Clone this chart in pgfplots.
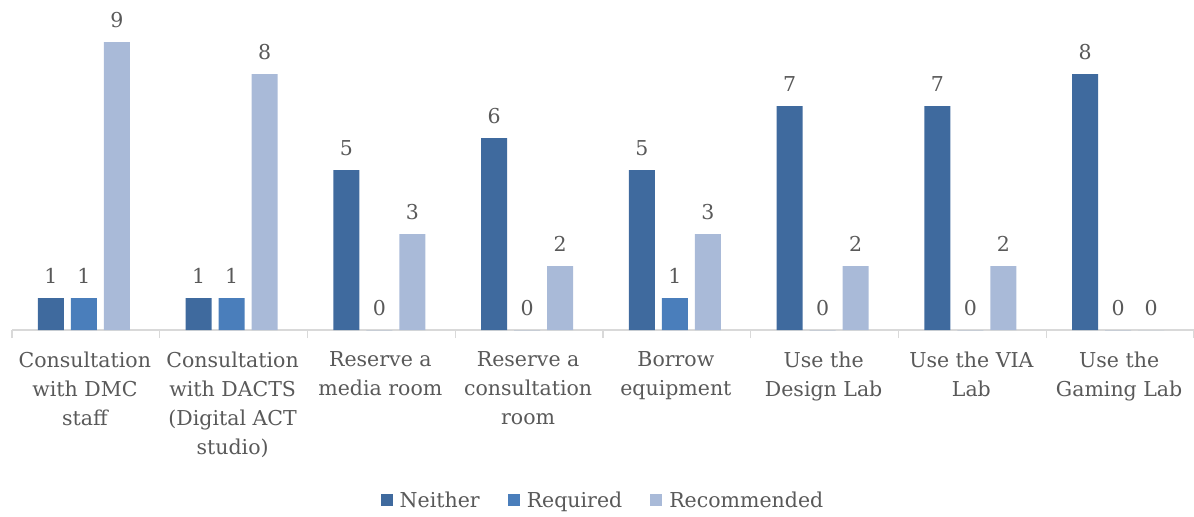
\documentclass[border=0pt]{standalone}
\usepackage{pgfplots}
\pgfplotsset{compat=1.18}
\usepackage{fontspec}
\setmainfont{DejaVu Serif}
\definecolor{cNei}{HTML}{3F6A9E}
\definecolor{cReq}{HTML}{4A7EBB}
\definecolor{cRec}{HTML}{A9BAD8}
\definecolor{txt}{HTML}{595959}
\definecolor{axl}{HTML}{D9D9D9}
\begin{document}
\begin{tikzpicture}
\begin{axis}[
  scale only axis,
  width=1182pt, height=320pt,
  xmin=-0.5, xmax=7.5, ymin=0, ymax=10,
  ybar=7pt, bar width=26pt,
  /pgf/number format/assume math mode=true,
  axis y line=none,
  axis x line*=bottom,
  x axis line style={axl, line width=1.2pt, -},
  xtick={0,...,7},
  major x tick style={draw=none},
  minor xtick={-0.5,0.5,...,7.5},
  minor x tick style={axl, line width=1.2pt},
  minor tick length=8pt,
  xtick align=outside,
  xticklabels={{Consultation\\with DMC\\staff},{Consultation\\with DACTS\\(Digital ACT\\studio)},{Reserve a\\media room},{Reserve a\\consultation\\room},{Borrow\\equipment},{Use the\\Design Lab},{Use the VIA\\Lab},{Use the\\Gaming Lab}},
  xticklabel style={align=center, font=\fontsize{20.5}{29}\selectfont, text=txt, anchor=north, yshift=-14pt, xshift=-1pt},
  nodes near coords,
  every node near coord/.append style={font=\fontsize{20.5}{24}\selectfont, text=txt, yshift=11pt},
  clip=false,
  legend columns=3,
  legend style={draw=none, at={(0.5,-0.531)}, anchor=center, font=\fontsize{20.5}{24}\selectfont, text=txt,
    /tikz/every even column/.append style={column sep=26pt},
    /tikz/every odd column/.append style={column sep=5pt}},
  legend image code/.code={\fill[#1] (0pt,-6pt) rectangle (12pt,6pt);},
]
\addplot[fill=cNei, draw=none, xshift=-2pt] coordinates {(0,1) (1,1) (2,5) (3,6) (4,5) (5,7) (6,7) (7,8)};
\addplot[fill=cReq, draw=none, xshift=-2pt] coordinates {(0,1) (1,1) (2,0) (3,0) (4,1) (5,0) (6,0) (7,0)};
\addplot[fill=cRec, draw=none, xshift=-2pt] coordinates {(0,9) (1,8) (2,3) (3,2) (4,3) (5,2) (6,2) (7,0)};
\legend{Neither, Required, Recommended}
\end{axis}
\pgfresetboundingbox
\path ([xshift=-12pt,yshift=-186pt]current axis.south west) rectangle ([yshift=10pt]current axis.north east);
\end{tikzpicture}
\end{document}
